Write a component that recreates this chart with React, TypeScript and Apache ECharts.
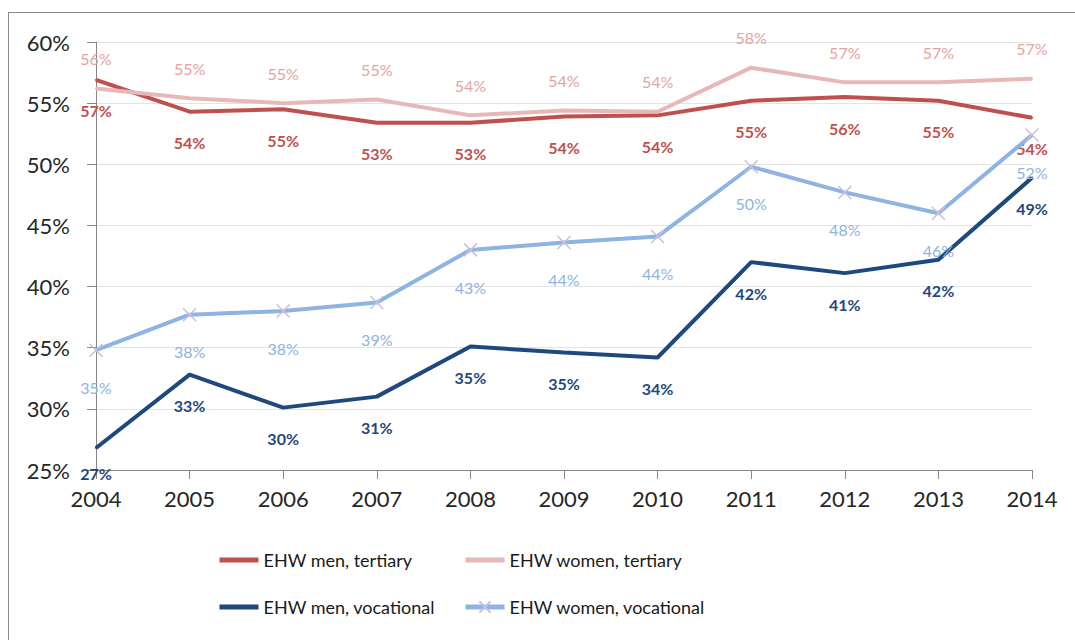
import React, { useEffect, useRef } from "react";
import * as echarts from "echarts";

const years = ["2004", "2005", "2006", "2007", "2008", "2009", "2010", "2011", "2012", "2013", "2014"];
const menTertiary = [56.9, 54.3, 54.5, 53.4, 53.4, 53.9, 54.0, 55.2, 55.5, 55.2, 53.8];
const womenTertiary = [56.2, 55.4, 55.0, 55.3, 54.0, 54.4, 54.3, 57.9, 56.7, 56.7, 57.0];
const menVocational = [26.8, 32.8, 30.1, 31.0, 35.1, 34.6, 34.2, 42.0, 41.1, 42.2, 48.9];
const womenVocational = [34.8, 37.7, 38.0, 38.7, 43.0, 43.6, 44.1, 49.8, 47.7, 46.0, 52.4];
const seriesNames = ["EHW men, tertiary", "EHW women, tertiary", "EHW men, vocational", "EHW women, vocational"];

const FONT = "Lato, 'Open Sans', sans-serif";

export default function App() {
  const ref = useRef<HTMLDivElement>(null);
  useEffect(() => {
    if (!ref.current) return;
    const chart = echarts.init(ref.current, undefined, { renderer: "svg" });
    const pct = (p: any) => Math.round(p.value) + "%";
    const mkLabel = (pos: string, color: string, bold: boolean, dist: number) => ({
      show: true,
      position: pos,
      distance: dist,
      color,
      fontSize: 16,
      fontWeight: bold ? "bold" : "normal",
      fontFamily: FONT,
      formatter: pct,
    });
    const legendBase = (name: string, left: number, top: number, hideSymbol: boolean) => ({
      show: true,
      data: [name],
      left,
      top,
      padding: 0,
      itemWidth: 39,
      itemHeight: 14,
      lineStyle: { width: 5 },
      itemStyle: hideSymbol ? { opacity: 0 } : {},
      textStyle: { fontSize: 18, color: "#1a1a1a", fontFamily: FONT },
      selectedMode: false,
    });
    const dot = (color: string) => ({
      symbol: "circle",
      symbolSize: 2,
      showAllSymbol: true,
      itemStyle: { color, borderWidth: 0 },
    });
    const menVocData = menVocational.map((v, i) =>
      i === 0 ? { value: v, label: { distance: 17 } } : v
    );
    chart.setOption({
      animation: false,
      backgroundColor: "#ffffff",
      textStyle: { fontFamily: FONT },
      grid: { left: 96, right: 43, top: 42, bottom: 170, containLabel: false },
      legend: [
        legendBase(seriesNames[0], 217, 551, true),
        legendBase(seriesNames[1], 463, 551, true),
        legendBase(seriesNames[2], 217, 598, true),
        legendBase(seriesNames[3], 463, 598, false),
      ],
      xAxis: {
        type: "category",
        data: years,
        boundaryGap: false,
        axisLine: { show: true, lineStyle: { color: "#868686", width: 1 } },
        axisTick: { show: true, length: 9, alignWithLabel: true, lineStyle: { color: "#868686" } },
        axisLabel: { fontSize: 22, color: "#262626", margin: 17, fontFamily: FONT },
        splitLine: { show: false },
      },
      yAxis: {
        type: "value",
        min: 25,
        max: 60,
        interval: 5,
        axisLine: { show: true, lineStyle: { color: "#868686", width: 1 } },
        axisTick: { show: true, length: 9, lineStyle: { color: "#868686" } },
        axisLabel: { fontSize: 22, color: "#262626", margin: 26, fontFamily: FONT, formatter: (v: number) => v + "%" },
        splitLine: { show: true, lineStyle: { color: "#E4E4E4", width: 1 } },
      },
      series: [
        {
          name: seriesNames[0],
          type: "line",
          data: menTertiary,
          ...dot("#C0504D"),
          color: "#C0504D",
          lineStyle: { color: "#C0504D", width: 4 },
          label: mkLabel("bottom", "#C0504D", true, 22),
          z: 3,
        },
        {
          name: seriesNames[1],
          type: "line",
          data: womenTertiary,
          ...dot("#E6B9B8"),
          color: "#E6B9B8",
          lineStyle: { color: "#E6B9B8", width: 4 },
          label: mkLabel("top", "#E5A3A1", false, 21),
          z: 4,
        },
        {
          name: seriesNames[2],
          type: "line",
          data: menVocData,
          ...dot("#1F497D"),
          color: "#1F497D",
          lineStyle: { color: "#1F497D", width: 4 },
          label: mkLabel("bottom", "#1F497D", true, 22),
          z: 3,
        },
        {
          name: seriesNames[3],
          type: "line",
          data: womenVocational,
          symbol: "path://M0,0L10,10M0,10L10,0",
          symbolSize: 13,
          showAllSymbol: true,
          color: "#8DB4E2",
          itemStyle: { color: "#8DB4E2", borderColor: "#C9C0DA", borderWidth: 1.5 },
          lineStyle: { color: "#8DB4E2", width: 4 },
          label: mkLabel("bottom", "#8DB4E2", false, 22),
          z: 4,
        },
      ],
      graphic: [
        { type: "line", shape: { x1: 8.5, y1: 12.5, x2: 8.5, y2: 640 }, style: { stroke: "#8C8C8C", lineWidth: 1 } },
        { type: "line", shape: { x1: 8, y1: 12.5, x2: 1075, y2: 12.5 }, style: { stroke: "#8C8C8C", lineWidth: 1 } },
      ],
    });
    return () => chart.dispose();
  }, []);
  return (
    <div
      ref={ref}
      style={{ position: "absolute", left: 0, top: 0, width: 1075, height: 640, background: "#fff" }}
    />
  );
}
